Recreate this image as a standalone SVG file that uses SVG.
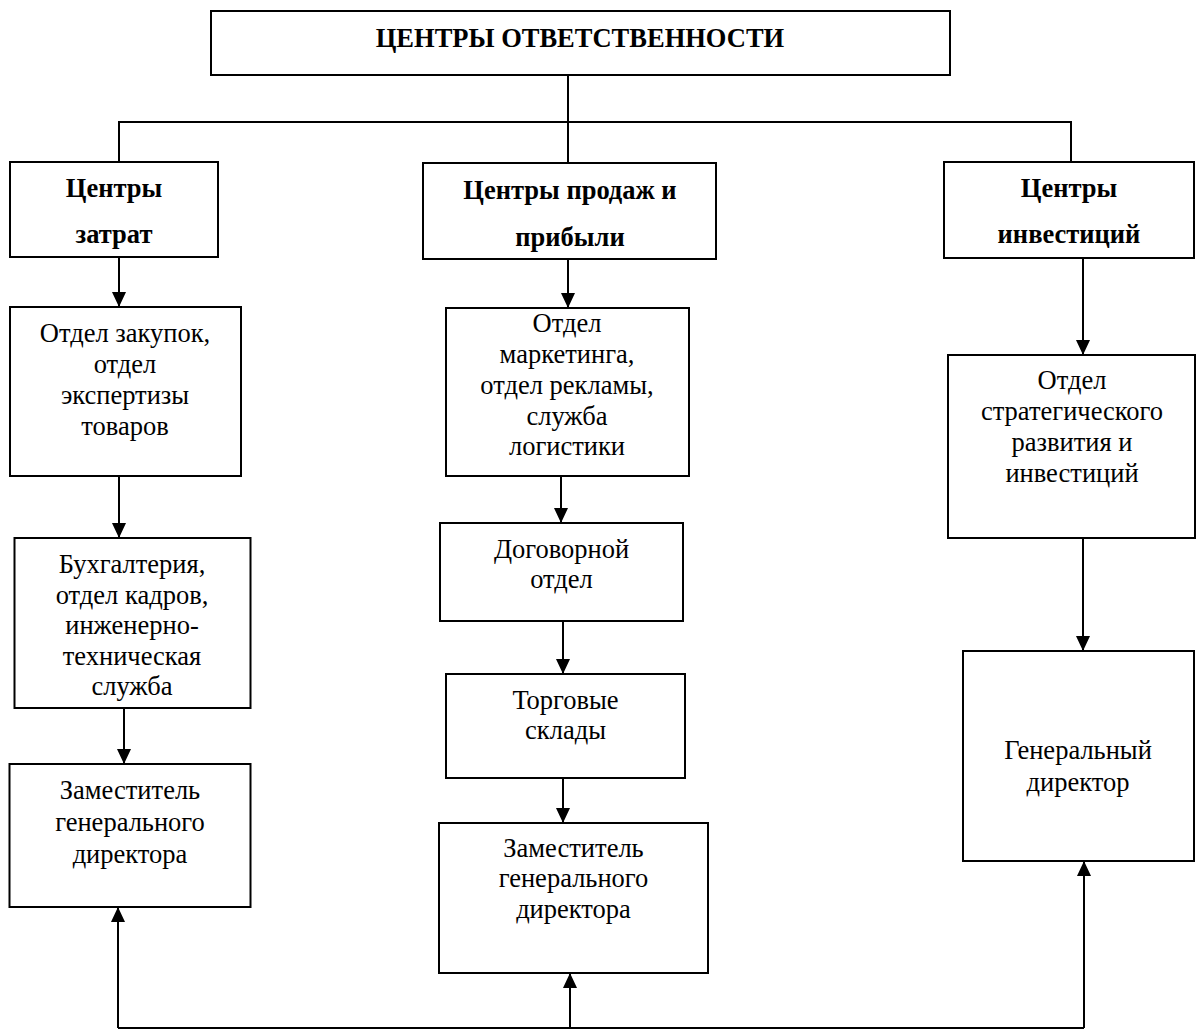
<svg xmlns="http://www.w3.org/2000/svg" width="1196" height="1030" viewBox="0 0 1196 1030">
<style>
  .box { fill: #ffffff; stroke: #000000; stroke-width: 2; }
  .t { font-family: "Liberation Serif", "Times New Roman", serif; font-size: 26.5px; fill: #000000; text-anchor: middle; }
  .b { font-family: "Liberation Serif", "Times New Roman", serif; font-size: 26.5px; font-weight: bold; fill: #000000; text-anchor: middle; }
  .ln { fill: none; stroke: #000000; stroke-width: 2; }
  .ar { fill: none; stroke: #000000; stroke-width: 2; marker-end: url(#ah); }
</style>
<defs>
  <marker id="ah" viewBox="0 0 15 14" refX="15" refY="7" markerWidth="15" markerHeight="14" markerUnits="userSpaceOnUse" orient="auto">
    <path d="M0,0 L15,7 L0,14 z" fill="#000000"/>
  </marker>
</defs>
<rect width="1196" height="1030" fill="#ffffff"/>

<g id="connectors">
  <polyline class="ln" points="568,75 568,163"/>
  <polyline class="ln" points="119,162 119,122 1071,122 1071,162"/>
  <polyline class="ar" points="119,253 119,307"/>
  <polyline class="ar" points="119,476 119,538"/>
  <polyline class="ar" points="124,700 124,764"/>
  <polyline class="ar" points="568,255 568,308"/>
  <polyline class="ar" points="561,476 561,523"/>
  <polyline class="ar" points="563,621 563,674"/>
  <polyline class="ar" points="563,778 563,823"/>
  <polyline class="ar" points="1083,258 1083,355"/>
  <polyline class="ar" points="1083,538 1083,651"/>
  <polyline class="ln" points="118,1028 1084,1028"/>
  <polyline class="ar" points="118,1028 118,907"/>
  <polyline class="ar" points="570,1028 570,973"/>
  <polyline class="ar" points="1084,1028 1084,861"/>
</g>

<g id="title">
  <rect class="box" x="211" y="11" width="739" height="64"/>
  <text class="b" x="580" y="47">ЦЕНТРЫ ОТВЕТСТВЕННОСТИ</text>
</g>

<g id="cost-centers">
  <rect class="box" x="10" y="162" width="208" height="95"/>
  <text class="b" x="114" y="197">Центры</text>
  <text class="b" x="114" y="243">затрат</text>
</g>

<g id="sales-centers">
  <rect class="box" x="423" y="163" width="293" height="96"/>
  <text class="b" x="570" y="199">Центры продаж и</text>
  <text class="b" x="570" y="246">прибыли</text>
</g>

<g id="investment-centers">
  <rect class="box" x="944" y="162" width="250" height="96"/>
  <text class="b" x="1069" y="197">Центры</text>
  <text class="b" x="1069" y="243">инвестиций</text>
</g>

<g id="purchasing">
  <rect class="box" x="10" y="307" width="231" height="169"/>
  <text class="t" x="125" y="342">Отдел закупок,</text>
  <text class="t" x="125" y="373">отдел</text>
  <text class="t" x="125" y="404">экспертизы</text>
  <text class="t" x="125" y="435">товаров</text>
</g>

<g id="accounting">
  <rect class="box" x="14.5" y="538" width="236" height="170"/>
  <text class="t" x="132" y="573">Бухгалтерия,</text>
  <text class="t" x="132" y="603.5">отдел кадров,</text>
  <text class="t" x="132" y="634">инженерно-</text>
  <text class="t" x="132" y="664.5">техническая</text>
  <text class="t" x="132" y="695">служба</text>
</g>

<g id="deputy-left">
  <rect class="box" x="9.5" y="764" width="241" height="143"/>
  <text class="t" x="130" y="799">Заместитель</text>
  <text class="t" x="130" y="831">генерального</text>
  <text class="t" x="130" y="863">директора</text>
</g>

<g id="marketing">
  <rect class="box" x="446" y="308" width="243" height="168"/>
  <text class="t" x="567" y="332">Отдел</text>
  <text class="t" x="567" y="363">маркетинга,</text>
  <text class="t" x="567" y="393.5">отдел рекламы,</text>
  <text class="t" x="567" y="424.5">служба</text>
  <text class="t" x="567" y="455">логистики</text>
</g>

<g id="contracts">
  <rect class="box" x="440" y="523" width="243" height="98"/>
  <text class="t" x="561.5" y="558">Договорной</text>
  <text class="t" x="561.5" y="588">отдел</text>
</g>

<g id="warehouses">
  <rect class="box" x="446" y="674" width="239" height="104"/>
  <text class="t" x="565.5" y="709">Торговые</text>
  <text class="t" x="565.5" y="739">склады</text>
</g>

<g id="deputy-middle">
  <rect class="box" x="439" y="823" width="269" height="150"/>
  <text class="t" x="573.5" y="857">Заместитель</text>
  <text class="t" x="573.5" y="887">генерального</text>
  <text class="t" x="573.5" y="918">директора</text>
</g>

<g id="strategy">
  <rect class="box" x="948" y="355" width="247" height="183"/>
  <text class="t" x="1072" y="389">Отдел</text>
  <text class="t" x="1072" y="420">стратегического</text>
  <text class="t" x="1072" y="451">развития и</text>
  <text class="t" x="1072" y="482">инвестиций</text>
</g>

<g id="general-director">
  <rect class="box" x="963" y="651" width="231" height="210"/>
  <text class="t" x="1078" y="759">Генеральный</text>
  <text class="t" x="1078" y="791">директор</text>
</g>
</svg>
